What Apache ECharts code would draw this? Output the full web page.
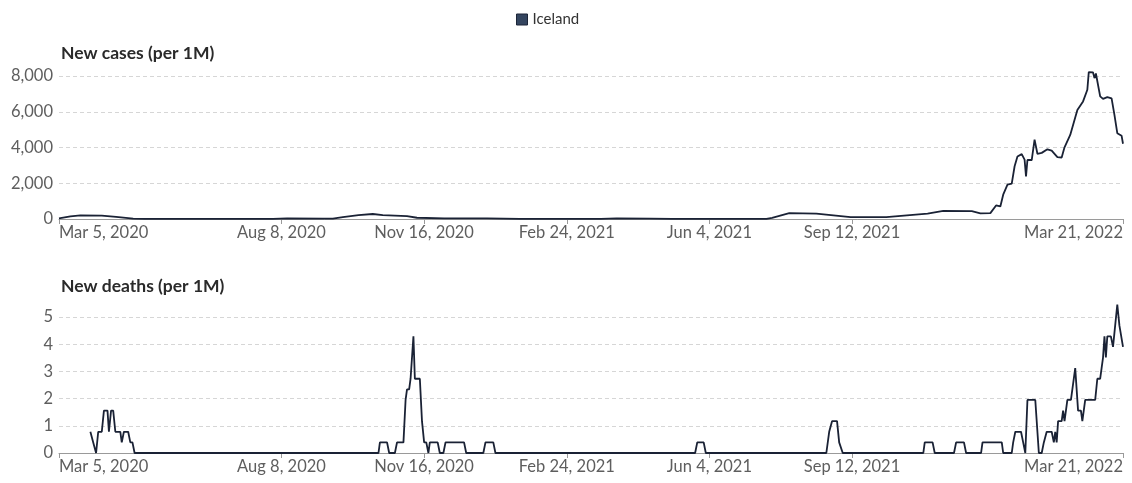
<!DOCTYPE html>
<html>
<head>
<meta charset="utf-8">
<title>Iceland - new cases and deaths per 1M</title>
<script src="https://cdn.jsdelivr.net/npm/echarts@6/dist/echarts.min.js"></script>
<style>
  html, body { margin: 0; padding: 0; background: #fff; }
  #chart { width: 1132px; height: 483px; }
</style>
</head>
<body>
<div id="chart"></div>
<script>
// days are counted from Mar 5, 2020
const START = Date.UTC(2020, 2, 5)
const tickDays = [0, 156, 256, 356, 456, 556, 746]

// new cases per 1M (7-day avg), vertices
const caseDays = [0, 8, 15, 30, 40, 52, 60, 150, 160, 185, 192, 199, 210, 220, 227, 244, 251, 270, 300, 323, 380, 391, 414, 430, 496, 500, 512, 531, 555, 580, 609, 620, 640, 646, 653, 654, 657, 660, 662, 665, 668, 670, 672, 675, 677, 678, 679, 682, 684, 686, 689, 693, 696, 700, 703, 705, 709, 714, 718, 721, 722, 725, 726, 727, 730, 732, 735, 738, 740, 742, 745, 746]
const caseValues = [40, 150, 200, 190, 120, 20, 5, 10, 40, 20, 20, 110, 220, 280, 220, 160, 70, 40, 40, 5, 5, 40, 20, 5, 5, 60, 330, 300, 100, 110, 300, 450, 440, 320, 330, 420, 760, 700, 1360, 1920, 1980, 2950, 3500, 3630, 3320, 2380, 3300, 3300, 4440, 3650, 3700, 3900, 3830, 3460, 3440, 4010, 4700, 6100, 6580, 7230, 8220, 8200, 7880, 8140, 6860, 6720, 6820, 6750, 5830, 4800, 4660, 4210]

// new deaths per 1M (7-day avg)
const deathDays = [22, 24, 25, 26, 27.5, 30, 31.5, 34, 35, 36.5, 38, 39.5, 43, 44, 45.5, 48.5, 50, 51.5, 53,
  224, 225, 230, 231.5, 235.5, 237, 241.5, 243, 244, 245.5, 246.5, 248.5, 249.5, 253, 254.5, 256, 257.5, 259, 260, 265.5, 267, 269.5, 271, 284, 285.5, 297.5, 299, 304.5, 306,
  446, 447.5, 452, 453.5,
  538, 540, 542, 545.5, 547, 548, 549.5,
  606, 607, 612.5, 614, 627.5, 629, 634.5, 636, 646.5, 647.5, 661, 662, 668, 669, 670.5, 674.5, 676, 677.5, 679, 684.5, 687, 689, 690.5, 692.5, 696, 697.5, 698.5, 699.5, 700.5, 703, 704, 705, 707, 709.5, 712.5, 714.5, 716.5, 717.5, 719.5, 726.5, 728, 730, 731, 732, 733, 734, 735, 737.5, 739, 740.5, 742, 743.5, 744.5, 746]
const deathValues = [0.78, 0.39, 0.39, 0, 0.78, 0.78, 1.56, 1.56, 0.78, 1.56, 1.56, 0.78, 0.78, 0.39, 0.78, 0.78, 0.39, 0.39, 0,
  0, 0.39, 0.39, 0, 0, 0.39, 0.39, 1.95, 2.34, 2.34, 2.73, 4.29, 2.73, 2.73, 1.17, 0.39, 0.39, 0, 0.39, 0.39, 0, 0, 0.39, 0.39, 0, 0, 0.39, 0.39, 0,
  0, 0.39, 0.39, 0,
  0, 0.78, 1.17, 1.17, 0.39, 0.39, 0,
  0, 0.39, 0.39, 0, 0, 0.39, 0.39, 0, 0, 0.39, 0.39, 0, 0, 0.39, 0.78, 0.78, 0.39, 0, 1.95, 1.95, 0, 0, 0.39, 0.78, 0.78, 0.39, 0.78, 0.39, 1.17, 1.17, 1.56, 1.17, 1.95, 1.95, 3.12, 1.56, 1.56, 1.17, 1.95, 1.95, 2.73, 2.73, 3.12, 3.51, 4.29, 3.51, 4.29, 4.29, 3.9, 4.68, 5.46, 4.68, 4.68, 3.9]

const MONTHS = ['Jan', 'Feb', 'Mar', 'Apr', 'May', 'Jun', 'Jul', 'Aug', 'Sep', 'Oct', 'Nov', 'Dec']
function dayLabel (d) {
  const dt = new Date(START + d * 86400000)
  return MONTHS[dt.getUTCMonth()] + ' ' + dt.getUTCDate() + ', ' + dt.getUTCFullYear()
}

const FONT = 'Lato, "Noto Sans", sans-serif'
const LINE = '#1a2235'
const labelColor = '#5e5e5e'

function xAxisFor (gridIndex) {
  return {
    type: 'value',
    gridIndex: gridIndex,
    min: 0,
    max: 746,
    axisLine: { show: true, lineStyle: { color: '#9a9a9a', width: 1 } },
    axisTick: { show: true, length: 5, customValues: tickDays, lineStyle: { color: '#9a9a9a' } },
    axisLabel: {
      customValues: tickDays,
      formatter: dayLabel,
      color: labelColor,
      fontFamily: FONT,
      fontSize: 16.5,
      margin: 5,
      alignMinLabel: 'left',
      alignMaxLabel: 'right'
    },
    splitLine: { show: false }
  }
}

function yAxisFor (gridIndex, max, interval) {
  return {
    type: 'value',
    gridIndex: gridIndex,
    min: 0,
    max: max,
    interval: interval,
    axisLine: { show: false },
    axisTick: { show: false },
    axisLabel: {
      color: labelColor,
      fontFamily: FONT,
      fontSize: 16.5,
      margin: 6,
      formatter: v => v.toLocaleString('en-US')
    },
    splitLine: { lineStyle: { color: '#d6d6d6', type: [4, 3] } }
  }
}

const titleStyle = { fontFamily: FONT, fontSize: 17.5, fontWeight: 'bold', color: '#2a2a2a' }

const chart = echarts.init(document.getElementById('chart'), null, { renderer: 'canvas' })
chart.setOption({
  animation: false,
  backgroundColor: '#fff',
  title: [
    { text: 'New cases (per 1M)', left: 56, top: 39, textStyle: titleStyle },
    { text: 'New deaths (per 1M)', left: 56, top: 272, textStyle: titleStyle }
  ],
  legend: {
    data: ['Iceland'],
    top: 7,
    left: 511,
    icon: 'rect',
    itemWidth: 11,
    itemHeight: 11,
    itemGap: 6,
    itemStyle: { color: '#34455f', borderColor: '#1c2538', borderWidth: 1 },
    textStyle: { fontFamily: FONT, fontSize: 15, color: '#333' }
  },
  grid: [
    { left: 59, right: 9, top: 76, height: 143 },
    { left: 59, right: 9, top: 317, height: 136 }
  ],
  xAxis: [xAxisFor(0), xAxisFor(1)],
  yAxis: [yAxisFor(0, 8000, 2000), yAxisFor(1, 5, 1)],
  series: [
    {
      name: 'Iceland',
      type: 'line',
      xAxisIndex: 0,
      yAxisIndex: 0,
      data: caseDays.map((d, i) => [d, caseValues[i]]),
      showSymbol: false,
      clip: false,
      lineStyle: { color: LINE, width: 1.8 },
      itemStyle: { color: '#34455f' }
    },
    {
      name: 'Iceland',
      type: 'line',
      xAxisIndex: 1,
      yAxisIndex: 1,
      data: deathDays.map((d, i) => [d, deathValues[i]]),
      showSymbol: false,
      clip: false,
      lineStyle: { color: LINE, width: 1.8 },
      itemStyle: { color: '#34455f' }
    }
  ]
})
</script>
</body>
</html>
